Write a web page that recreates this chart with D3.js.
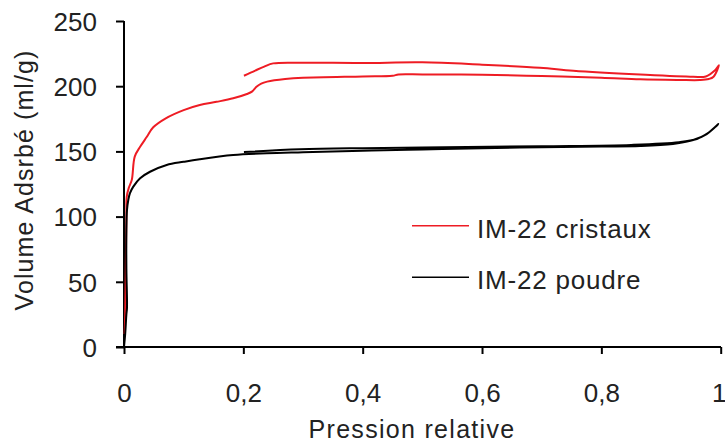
<!DOCTYPE html>
<html><head><meta charset="utf-8">
<script src="https://cdn.jsdelivr.net/npm/d3@7"></script>
<style>body{margin:0;background:#fff}svg{display:block}text{font-family:"Liberation Sans",Arial,sans-serif;fill:#222}</style>
</head><body><svg id="c" width="725" height="443"></svg>
<script>
const xTicks=[0,0.2,0.4,0.6,0.8,1];
const yTicks=[0,50,100,150,200,250];
const xTickLabels=["0","0,2","0,4","0,6","0,8","1"];
const seriesNames=["IM-22 cristaux","IM-22 poudre"];
const seriesColors=["#ee1c24","#000000"];
const cristauxP=[0.001,0.002,0.003,0.004,0.0045,0.008,0.013,0.018,0.027,0.038,0.049,0.07,0.1,0.127,0.155,0.183,0.206,0.215,0.222,0.23,0.24,0.27,0.3,0.4,0.45,0.46,0.5,0.6,0.7,0.8,0.865,0.93,0.965,0.98,0.988,0.997,
 0.99,0.975,0.954,0.865,0.753,0.697,0.6,0.5,0.4,0.3,0.25,0.235,0.22,0.201];
const cristauxV=[10,25,60,100,115,122,128,146,153.5,161,168.5,175.4,181.7,185.6,188,190.7,194,196,199.5,202,203.5,205.5,206.5,207.5,208,209,209,208.8,207.8,206.5,205.3,204.8,204.7,205.5,207.3,216,
 212,207.5,207.3,209,211.9,214.2,216.5,218.3,217.8,218,217.5,215,212,208];
const poudreP=[0,0.002,0.004,0.005,0.004,0.004,0.005,0.0072,0.01,0.0156,0.027,0.0436,0.0715,0.1,0.127,0.183,0.239,0.3,0.4,0.5,0.6,0.7,0.8,0.865,0.92,0.954,0.9765,0.996,
 0.98,0.96,0.93,0.85,0.7,0.5,0.4,0.295,0.201];
const poudreV=[0,10,25,30,60,90,105,112.7,118,123,129.4,134.4,139.6,142,144,147.2,148.5,149.3,150.5,151.5,152.5,153.1,153.7,154.1,155.7,158.7,163.3,171,
 164.5,159.5,157,155,154,153,152.5,151.6,149.5];

const svg=d3.select("#c");
const x=d3.scaleLinear().domain([0,1]).range([124,720.7]);
const y=d3.scaleLinear().domain([0,250]).range([347,21]);

const lineL=d3.line().x(d=>x(d[0])).y(d=>y(d[1])).curve(d3.curveCatmullRom.alpha(0.5));
const series=[d3.zip(cristauxP,cristauxV),d3.zip(poudreP,poudreV)];

// axes
const xa=svg.append("g").attr("transform","translate(0,347)").call(d3.axisBottom(x).tickValues(xTicks).tickSize(7).tickFormat((d,i)=>xTickLabels[i]).tickPadding(4));
const ya=svg.append("g").attr("transform","translate(124,0)").call(d3.axisLeft(y).tickValues(yTicks).tickSize(8).tickPadding(20));
[xa,ya].forEach(a=>{a.select(".domain").attr("stroke","#000").attr("stroke-width",2);a.selectAll(".tick line").attr("stroke","#000").attr("stroke-width",2);
 a.selectAll("text").style("font-size","26px").attr("fill","#222");});
xa.select(".domain").attr("d","M116,0H721");
ya.select(".domain").attr("d","M0,21V347");
xa.selectAll(".tick text").attr("dy","1.7em");
xa.selectAll(".tick text").filter((d,i)=>i===5).attr("dx",-2);
ya.selectAll(".tick text").attr("dy","0.36em").attr("x",-27);

series.forEach((s,i)=>{
 svg.append("path").datum(s).attr("d",lineL).attr("fill","none").attr("stroke",seriesColors[i]).attr("stroke-width",2).attr("stroke-linejoin","round");
});

// titles
svg.append("text").attr("x",412).attr("y",438).attr("text-anchor","middle").style("font-size","25px").style("letter-spacing","1.3px").text("Pression relative");
svg.append("text").attr("transform","translate(33,180) rotate(-90)").attr("text-anchor","middle").style("font-size","25px").style("letter-spacing","1.1px").text("Volume Adsrbé (ml/g)");

// legend
seriesNames.forEach((n,i)=>{
 const ly=[225.7,277.3][i];
 svg.append("line").attr("x1",412).attr("x2",469).attr("y1",ly).attr("y2",ly).attr("stroke",seriesColors[i]).attr("stroke-width",1.5);
 svg.append("text").attr("x",477).attr("y",[237.5,288.5][i]).style("font-size","26px").style("letter-spacing","0.8px").text(n);
});
</script></body></html>
